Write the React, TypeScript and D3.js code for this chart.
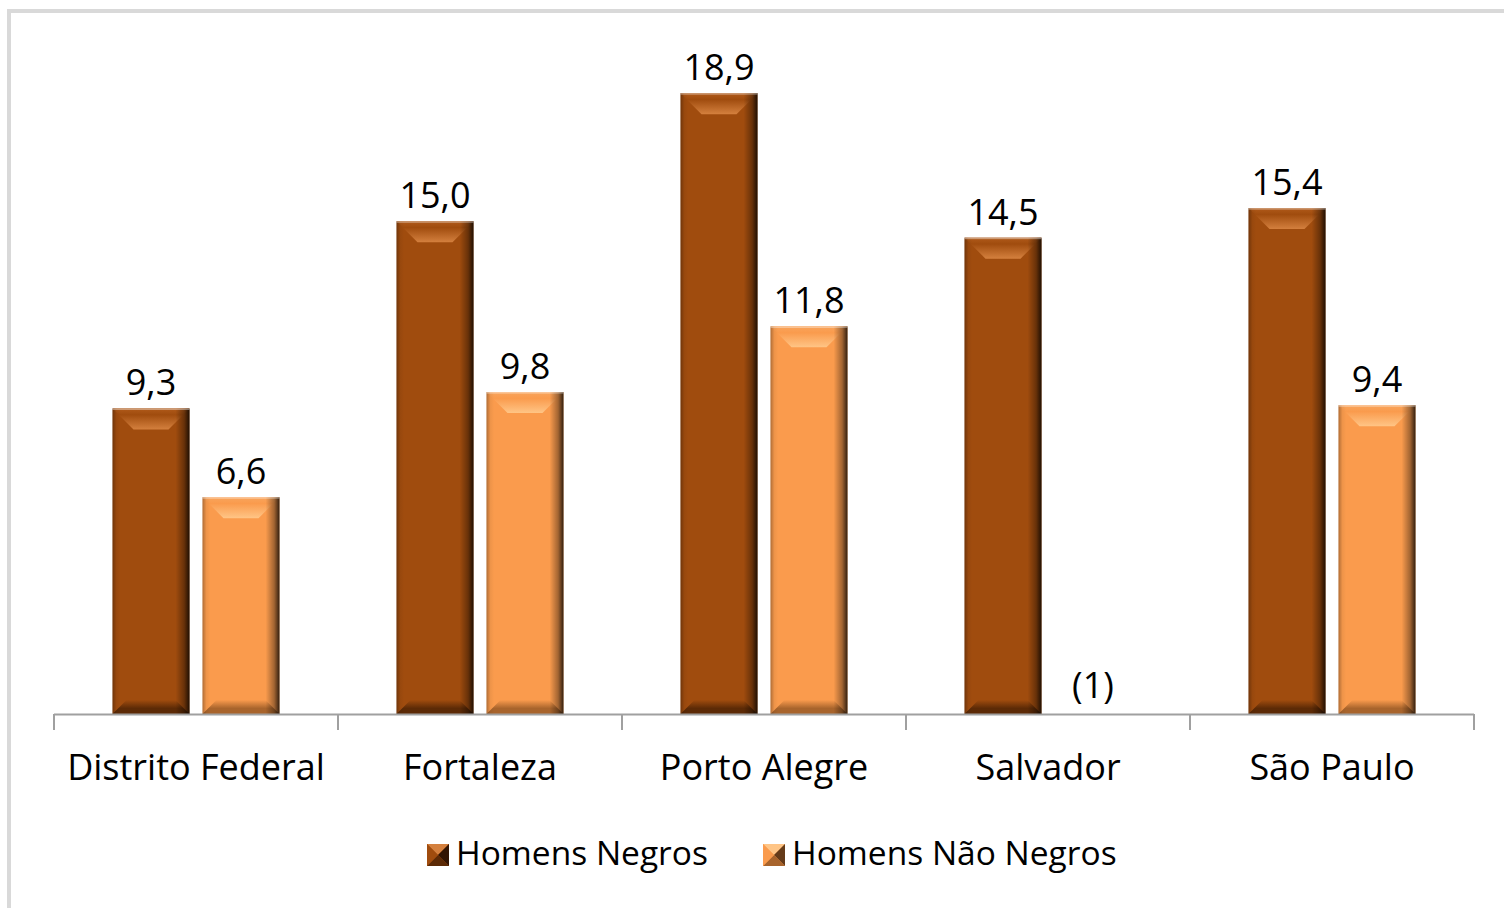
import React from "react";
import * as d3 from "d3";

const categories = ["Distrito Federal", "Fortaleza", "Porto Alegre", "Salvador", "São Paulo"];
const seriesNames = ["Homens Negros", "Homens Não Negros"];
const negros = [9.3, 15.0, 18.9, 14.5, 15.4];
const naoNegros: (number | null)[] = [6.6, 9.8, 11.8, null, 9.4];
const missingLabel = "(1)";

const W = 1504;
const H = 908;
const FONT = "'Open Sans', 'DejaVu Sans', sans-serif";

type Pal = { base: string; light: string; mid: string; dark: string; edge: string };
const palettes: Pal[] = [
  { base: "#a04c0e", light: "#d4803e", mid: "#b05a1a", dark: "#5c2a06", edge: "#1e0a00" },
  { base: "#fa9b4d", light: "#ffc586", mid: "#f8a45c", dark: "#a8642c", edge: "#4a2a10" },
];

function fmt(v: number) {
  return d3.format(".1f")(v).replace(".", ",");
}

function Bar({ x, y, w, h, p, id }: { x: number; y: number; w: number; h: number; p: number; id: string }) {
  const pal = palettes[p];
  const bt = Math.min(21, h / 2);
  const bb = Math.min(14, h / 2);
  return (
    <g>
      <defs>
        <linearGradient id={`side-${id}`} x1="0" x2="1" y1="0" y2="0">
          <stop offset="0" stopColor="#000" stopOpacity={0.3} />
          <stop offset="0.05" stopColor="#000" stopOpacity={0.05} />
          <stop offset="0.1" stopColor="#000" stopOpacity={0} />
          <stop offset="0.82" stopColor="#000" stopOpacity={0} />
          <stop offset="0.93" stopColor="#000" stopOpacity={0.35} />
          <stop offset="1" stopColor="#000" stopOpacity={0.8} />
        </linearGradient>
        <linearGradient id={`top-${id}`} x1="0" x2="0" y1="0" y2="1">
          <stop offset="0" stopColor={pal.mid} />
          <stop offset="0.3" stopColor={pal.base} />
          <stop offset="1" stopColor={pal.light} />
        </linearGradient>
        <linearGradient id={`bot-${id}`} x1="0" x2="0" y1="0" y2="1">
          <stop offset="0" stopColor={pal.base} />
          <stop offset="0.6" stopColor={pal.dark} />
          <stop offset="1" stopColor={pal.dark} />
        </linearGradient>
      </defs>
      <rect x={x} y={y} width={w} height={h} fill={pal.base} />
      <polygon
        points={`${x},${y} ${x + w},${y} ${x + w - bt},${y + bt} ${x + bt},${y + bt}`}
        fill={`url(#top-${id})`}
      />
      <polygon
        points={`${x + bb},${y + h - bb} ${x + w - bb},${y + h - bb} ${x + w},${y + h} ${x},${y + h}`}
        fill={`url(#bot-${id})`}
      />
      <rect x={x} y={y} width={w} height={h} fill={`url(#side-${id})`} />
      <rect x={x} y={y} width={w} height={1.5} fill="#fff" opacity={0.4} />
    </g>
  );
}

function LegendMarker({ x, y, p }: { x: number; y: number; p: number }) {
  const pal = palettes[p];
  const s = 22;
  const c = s / 2;
  return (
    <g>
      <rect x={x} y={y} width={s} height={s} fill={pal.base} />
      <polygon points={`${x},${y} ${x + s},${y} ${x + c},${y + c}`} fill={pal.light} />
      <polygon points={`${x + s},${y} ${x + s},${y + s} ${x + c},${y + c}`} fill={pal.edge} opacity={0.85} />
      <polygon points={`${x},${y + s} ${x + s},${y + s} ${x + c},${y + c}`} fill={pal.dark} />
      <polygon points={`${x},${y} ${x},${y + s} ${x + c},${y + c}`} fill={pal.base} />
    </g>
  );
}

export default function App() {
  const x0 = d3.scaleBand<string>().domain(categories).range([54, 1474]).padding(0);
  const x1 = d3
    .scaleBand<string>()
    .domain(seriesNames)
    .range([58.5, 225.5])
    .paddingInner(0.1444)
    .paddingOuter(0);
  const y = d3.scaleLinear().domain([0, 20]).range([714, 57]);
  const y0 = y(0);
  const bw = x1.bandwidth();

  const data = [negros, naoNegros];
  const ticks = [...categories.map((c) => x0(c)!), x0.range()[1]];

  return (
    <svg
      width={W}
      height={H}
      style={{ position: "absolute", left: 0, top: 0, background: "#fff" }}
      fontFamily={FONT}
    >
      <rect x={0} y={0} width={W} height={H} fill="#fff" />
      <rect x={9} y={11} width={W + 20} height={H + 20} fill="none" stroke="#d9d9d9" strokeWidth={4} />

      {categories.map((c, i) =>
        data.map((ser, s) => {
          const v = ser[i];
          const bx = x0(c)! + x1(seriesNames[s])!;
          const cx = bx + bw / 2;
          if (v == null) {
            return (
              <text key={`${c}-${s}`} x={cx} y={y0 - 16} textAnchor="middle" fontSize={36} fill="#000">
                {missingLabel}
              </text>
            );
          }
          const top = y(v);
          return (
            <g key={`${c}-${s}`}>
              <Bar x={bx} y={top} w={bw} h={y0 - top} p={s} id={`b${i}-${s}`} />
              <text x={cx} y={top - 13} textAnchor="middle" fontSize={36} fill="#000">
                {fmt(v)}
              </text>
            </g>
          );
        })
      )}

      <line x1={54} x2={1474} y1={y0 + 0.5} y2={y0 + 0.5} stroke="#a0a0a0" strokeWidth={2} />
      {ticks.map((t, i) => (
        <line key={i} x1={t} x2={t} y1={y0} y2={y0 + 16} stroke="#a0a0a0" strokeWidth={2} />
      ))}
      {categories.map((c) => (
        <text
          key={c}
          x={x0(c)! + x0.bandwidth() / 2}
          y={780}
          textAnchor="middle"
          fontSize={36}
          fill="#000"
        >
          {c}
        </text>
      ))}

      <LegendMarker x={427} y={844} p={0} />
      <text x={456} y={865} fontSize={33.5} fill="#000">
        {seriesNames[0]}
      </text>
      <LegendMarker x={763} y={844} p={1} />
      <text x={792} y={865} fontSize={33.5} fill="#000">
        {seriesNames[1]}
      </text>
    </svg>
  );
}
